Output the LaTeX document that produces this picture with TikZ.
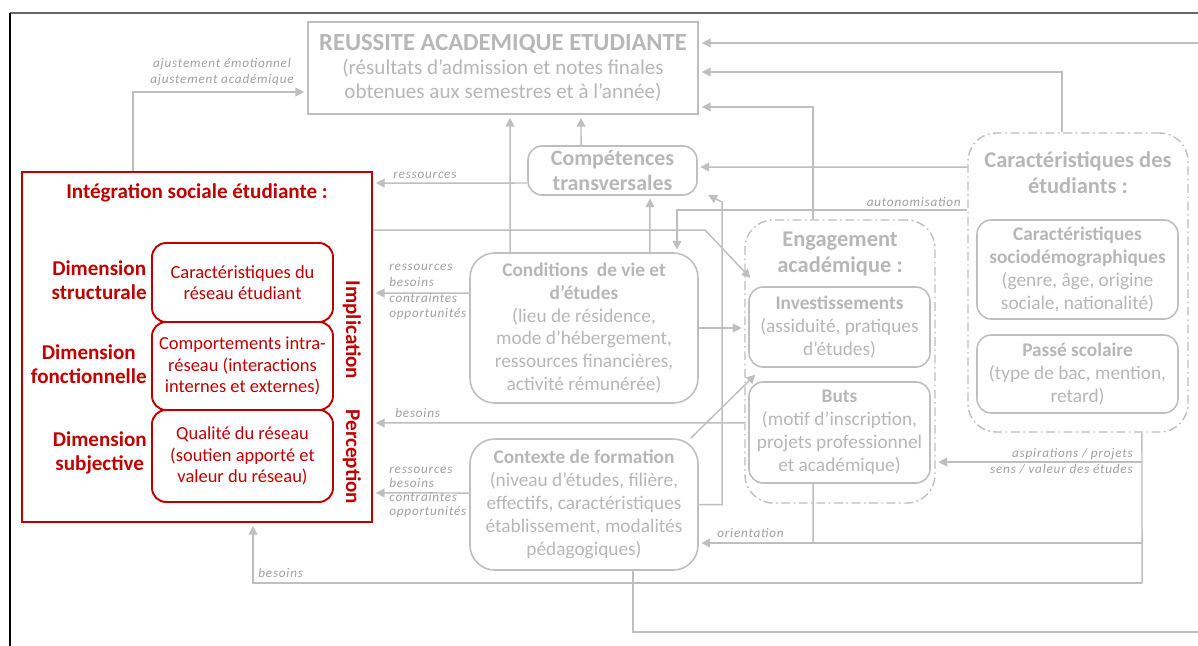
\documentclass[tikz,border=0pt]{standalone}
\usepackage{fontspec}
\setmainfont{Carlito}
\newfontfamily\notefont[LetterSpace=6]{Carlito}
\usetikzlibrary{arrows.meta}

\definecolor{linegray}{RGB}{191,191,191}
\definecolor{textgray}{RGB}{183,183,183}
\definecolor{notegray}{RGB}{160,160,160}
\definecolor{isired}{RGB}{192,0,0}

\begin{document}
\begin{tikzpicture}[x=0.02cm, y=-0.02cm,
    every node/.style={font=\fontsize{11}{13}\selectfont},
    link/.style={draw=linegray, line width=0.85pt},
    flow/.style={link, -{Triangle[length=5pt, width=5pt]}, shorten >=1.5pt},
    outcome/.style={draw=linegray, line width=1.4pt, align=center, text=textgray, inner sep=0pt},
    box/.style={draw=linegray, line width=0.9pt, rounded corners=8pt, align=center, text=textgray, inner sep=0pt},
    group/.style={draw=linegray, line width=0.8pt, rounded corners=16pt,
        dash pattern=on 5pt off 2pt on 1pt off 2pt, inner sep=0pt},
    grouptitle/.style={align=center, text=textgray, font=\bfseries\fontsize{12.8}{14.7}\selectfont},
    note/.style={align=left, text=notegray, inner sep=0pt, font=\notefont\itshape\fontsize{7.5}{9}\selectfont},
    isibox/.style={draw=isired, line width=1.4pt, inner sep=0pt},
    netbox/.style={draw=isired, line width=1.1pt, rounded corners=8pt, align=center, text=isired,
        inner sep=0pt, font=\fontsize{10.5}{12.3}\selectfont},
    dimlabel/.style={align=center, text=isired, inner sep=0pt, font=\bfseries\fontsize{12}{14}\selectfont}]

    \useasboundingbox (0,0) rectangle (1198,646);
    \clip (0,0) rectangle (1198,646);

    % Frame
    \draw[black!60, line width=0.8pt] (10,13) -- (1198,13);
    \draw[black, line width=0.8pt] (10,13) -- (10,646);

    % Outcome
    \node[outcome, minimum width=7.8cm, minimum height=1.84cm,
    font=\fontsize{12}{13.6}\selectfont] (res) at (503,68)
    {{\bfseries\fontsize{14}{15.5}\selectfont REUSSITE ACADEMIQUE ETUDIANTE}\\
    (résultats d’admission et notes finales\\obtenues aux semestres et à l’année)};
    \node[box, minimum width=3.38cm, minimum height=0.98cm,
    font=\bfseries\fontsize{12.5}{14}\selectfont] (comp) at (612.5,170.5)
    {Compétences\\transversales};

    % Context
    \node[box, minimum width=4.56cm, minimum height=3cm, rounded corners=14pt] (cond) at (584,328)
    {\textbf{Conditions~ de vie et}\\\textbf{d’études}\\(lieu de résidence,\\
    mode d’hébergement,\\ressources financières,\\activité rémunérée)};
    \node[box, minimum width=4.56cm, minimum height=2.62cm, rounded corners=14pt] (ctx) at (584,504.5)
    {\textbf{Contexte de formation}\\(niveau d’études, filière,\\effectifs, caractéristiques\\
    établissement, modalités\\pédagogiques)};

    % Academic engagement
    \node[group, minimum width=3.8cm, minimum height=5.66cm] (eng) at (840,361.5) {};
    \node[grouptitle] (engT) at (840,254) {Engagement\\académique :};
    \node[box, minimum width=3.62cm, minimum height=1.6cm] (inv) at (839.5,327)
    {\textbf{Investissements}\\(assiduité, pratiques\\d’études)};
    \node[box, minimum width=3.62cm, minimum height=2.02cm] (buts) at (839.5,432.5)
    {\textbf{Buts}\\(motif d’inscription,\\projets professionnel\\et académique)};

    % Student characteristics
    \node[group, minimum width=4.4cm, minimum height=5.98cm] (car) at (1078,282.5) {};
    \node[grouptitle] (carT) at (1078,173) {Caractéristiques des\\étudiants :};
    \node[box, minimum width=4.02cm, minimum height=1.98cm] (socio) at (1077.5,269.5)
    {\textbf{Caractéristiques}\\\textbf{sociodémographiques}\\(genre, âge, origine\\sociale, nationalité)};
    \node[box, minimum width=4.02cm, minimum height=1.56cm] (passe) at (1077.5,374)
    {\textbf{Passé scolaire}\\(type de bac, mention,\\retard)};

    % Social integration
    \node[isibox, minimum width=7cm, minimum height=7cm] (isi) at (197,347) {};
    \node[dimlabel] (isiT) at (197,193) {Intégration sociale étudiante :};
    \node[netbox, minimum width=3.62cm, minimum height=1.58cm] (net1) at (242.5,282.5)
    {Caractéristiques du\\réseau étudiant};
    \node[netbox, minimum width=3.62cm, minimum height=1.76cm] (net2) at (242.5,366)
    {Comportements intra-\\réseau (interactions\\internes et externes)};
    \node[netbox, minimum width=3.62cm, minimum height=1.84cm] (net3) at (242.5,456)
    {Qualité du réseau\\(soutien apporté et\\valeur du réseau)};
    \node[dimlabel, anchor=east] (dimS) at (147,280) {Dimension\\structurale};
    \node[dimlabel, anchor=east] (dimF) at (147,364) {Dimension\\fonctionnelle};
    \node[dimlabel, anchor=east] (dimJ) at (147,453) {Dimension\\subjective};
    \node[dimlabel, rotate=-90] (impl) at (352,330) {Implication};
    \node[dimlabel, rotate=-90] (perc) at (352,457) {Perception};

    % Bends
    \coordinate (bendA) at (705,230);
    \coordinate (bendC) at (722,202);
    \coordinate (loopR) at (1215,632);
    \coordinate (aspY) at (1142,462);
    \coordinate (oriY) at (1142,543);
    \coordinate (oriJ) at (813,543);
    \coordinate (besY) at (1142,583);

    % Towards success
    \draw[flow] ([xshift=-1.28cm]isi.north) |- ([yshift=-0.48cm]res.west);
    \draw[flow] ([xshift=0.98cm]ctx.south) |- (loopR) |- ([yshift=0.5cm]res.east);
    \draw[flow] ([xshift=-0.32cm]car.north) |- ([yshift=-0.08cm]res.east);
    \draw[flow] ([xshift=-0.54cm]eng.north) |- ([yshift=-0.78cm]res.east);
    \draw[flow] ([xshift=-1.48cm]cond.north) -- ([xshift=0.14cm]res.south);
    \draw[flow] ([xshift=-0.63cm]comp.north) -- ([xshift=1.56cm]res.south);

    % Towards skills
    \draw[flow] ([yshift=2.31cm]car.west) -- ([yshift=0.07cm]comp.east);
    \draw[flow] ([xshift=1.32cm]cond.north) -- ([xshift=0.75cm]comp.south);
    \draw[flow] (ctx.east) -| (bendC) -- ([xshift=0.16cm, yshift=0.04cm]comp.south east);

    % Towards integration
    \draw[flow] ([yshift=-0.25cm]comp.west) -- ([yshift=3.28cm]isi.east);
    \draw[flow] ([yshift=0.7cm]cond.west) -- ([yshift=1.08cm]isi.east);
    \draw[flow] ([yshift=-1.23cm]eng.west) -- ([yshift=-1.52cm]isi.east);
    \draw[flow] ([yshift=0.23cm]ctx.west) -- ([yshift=-2.92cm]isi.east);
    \draw[flow] (besY) -| ([xshift=1.12cm]isi.south);

    % Towards engagement
    \draw[flow] ([yshift=2.34cm]isi.east) -- (bendA) -- ([xshift=0.16cm, yshift=1.63cm]eng.west);
    \draw[flow] (cond.east) -- (cond.east -| eng.west);
    \draw[flow] ([xshift=-0.16cm]ctx.north east) -- ([xshift=0.18cm, yshift=-0.1cm]inv.south west);
    \draw[flow] ([yshift=1.45cm]car.west) -| ([xshift=1.86cm]cond.north);
    \draw[link] ([xshift=1.28cm]car.south) -- (besY);
    \draw[flow] (aspY) -- (aspY -| eng.east);
    \draw[link] ([xshift=-0.53cm]buts.south) -- (oriJ);
    \draw[flow] (oriY) -- (oriY -| ctx.east);

    % Labels
    \node[note, align=center] (ajust) at (222,72) {ajustement émotionnel\\ajustement académique};
    \node[note, anchor=west] (resA) at (393,175) {ressources};
    \node[note, anchor=west] (resB) at (389,292) {ressources\\besoins\\contraintes\\opportunités};
    \node[note, anchor=west] (besA) at (395,413) {besoins};
    \node[note, anchor=west, font=\notefont\itshape\fontsize{7.5}{8}\selectfont] (resC) at (389,492)
    {ressources\\besoins\\contraintes\\opportunités};
    \node[note, anchor=east] (auto) at (961,202) {autonomisation};
    \node[note, anchor=east, align=right] (aspi) at (1133,461) {aspirations / projets\\sens / valeur des études};
    \node[note, anchor=west] (orie) at (717,533) {orientation};
    \node[note, anchor=west] (besB) at (258,573) {besoins};

\end{tikzpicture}
\end{document}
